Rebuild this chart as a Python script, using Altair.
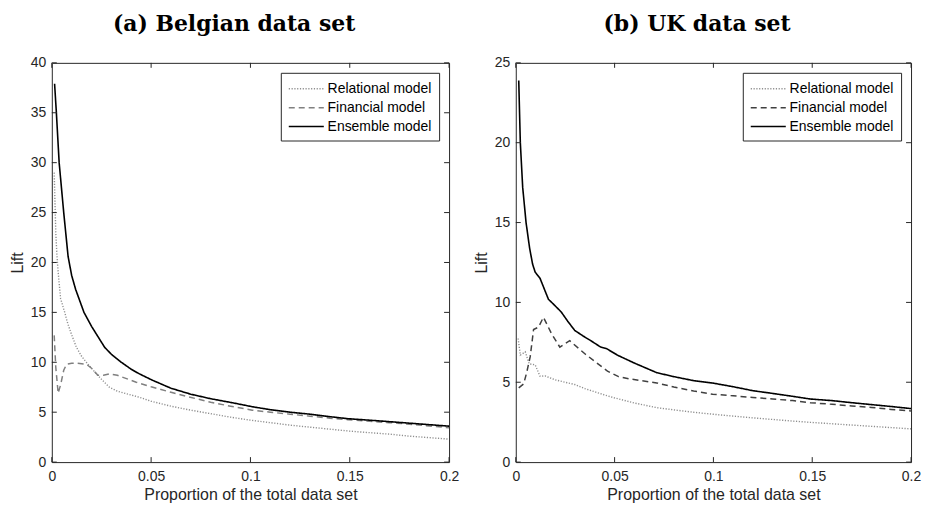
import altair as alt
import pandas as pd

SERIES = ["Relational model", "Financial model", "Ensemble model"]
X_TICKS = [0, 0.05, 0.1, 0.15, 0.2]
BE_Y_TICKS = [0, 5, 10, 15, 20, 25, 30, 35, 40]
UK_Y_TICKS = [0, 5, 10, 15, 20, 25]

# ---- (a) Belgian data set ----
be_rel_x = [0.0012, 0.0016, 0.002, 0.0024, 0.003, 0.0044, 0.0065, 0.008, 0.0099, 0.0124, 0.015, 0.0174,
            0.020, 0.0224, 0.025, 0.029, 0.033, 0.0374, 0.044, 0.050, 0.060, 0.070, 0.080, 0.090, 0.100,
            0.110, 0.120, 0.130, 0.140, 0.150, 0.160, 0.170, 0.180, 0.190, 0.200]
be_rel = [29.0, 26.0, 23.0, 21.4, 19.5, 16.4, 15.0, 13.9, 12.8, 11.5, 10.6, 10.0,
          9.4, 8.85, 8.3, 7.5, 7.1, 6.86, 6.5, 6.1, 5.6, 5.2, 4.85, 4.5, 4.2,
          3.95, 3.7, 3.5, 3.3, 3.1, 2.95, 2.8, 2.6, 2.45, 2.3]

be_fin_x = [0.0012, 0.002, 0.0032, 0.0045, 0.006, 0.0074, 0.010, 0.013, 0.0174, 0.020, 0.0232, 0.026,
            0.029, 0.033, 0.0425, 0.050, 0.060, 0.0675, 0.080, 0.090, 0.1009, 0.110, 0.120, 0.130,
            0.140, 0.149, 0.160, 0.170, 0.180, 0.190, 0.200]
be_fin = [12.7, 9.5, 6.9, 7.8, 9.2, 9.8, 9.9, 9.9, 9.8, 9.4, 8.7, 8.7,
          8.85, 8.7, 8.0, 7.55, 7.0, 6.6, 6.0, 5.6, 5.2, 5.0, 4.8, 4.6,
          4.4, 4.25, 4.1, 3.95, 3.8, 3.62, 3.45]

be_ens_x = [0.0014, 0.0023, 0.0037, 0.006, 0.0082, 0.010, 0.012, 0.0162, 0.020, 0.0266, 0.030, 0.035,
            0.040, 0.044, 0.0507, 0.060, 0.070, 0.080, 0.0908, 0.1009, 0.110, 0.120, 0.130, 0.140,
            0.149, 0.160, 0.170, 0.180, 0.190, 0.200]
be_ens = [37.9, 35.0, 30.0, 25.0, 20.6, 18.7, 17.3, 15.0, 13.6, 11.5, 10.8, 10.0,
          9.3, 8.85, 8.2, 7.4, 6.8, 6.35, 5.95, 5.55, 5.25, 5.0, 4.8, 4.55,
          4.35, 4.2, 4.05, 3.9, 3.75, 3.6]

# ---- (b) UK data set ----
uk_rel_x = [0.0012, 0.0023, 0.0048, 0.0068, 0.0098, 0.0123, 0.0148, 0.020, 0.025, 0.0298, 0.035, 0.040,
            0.045, 0.0497, 0.060, 0.0713, 0.080, 0.090, 0.0996, 0.110, 0.120, 0.130, 0.140, 0.149,
            0.160, 0.170, 0.180, 0.190, 0.200]
uk_rel = [7.74, 6.7, 6.9, 6.15, 6.09, 5.37, 5.4, 5.15, 5.0, 4.86, 4.6, 4.4,
          4.2, 4.03, 3.7, 3.41, 3.27, 3.12, 3.0, 2.88, 2.77, 2.67, 2.57, 2.49,
          2.4, 2.32, 2.24, 2.16, 2.08]

uk_fin_x = [0.0015, 0.004, 0.0055, 0.0073, 0.009, 0.0115, 0.014, 0.0181, 0.0223, 0.0273, 0.0348, 0.040,
            0.0464, 0.052, 0.058, 0.0713, 0.080, 0.090, 0.0996, 0.110, 0.120, 0.130, 0.140, 0.149,
            0.160, 0.170, 0.180, 0.190, 0.200]
uk_fin = [4.65, 4.9, 5.6, 6.6, 8.3, 8.45, 9.07, 8.04, 7.2, 7.6, 6.8, 6.3,
          5.7, 5.35, 5.2, 4.96, 4.7, 4.45, 4.25, 4.15, 4.05, 3.95, 3.85, 3.72,
          3.62, 3.52, 3.42, 3.3, 3.2]

uk_ens_x = [0.0015, 0.0023, 0.0035, 0.0052, 0.007, 0.0085, 0.0098, 0.0123, 0.0165, 0.0198, 0.023, 0.0264,
            0.0298, 0.034, 0.038, 0.043, 0.046, 0.0514, 0.060, 0.0713, 0.080, 0.090, 0.0996, 0.110,
            0.120, 0.130, 0.140, 0.149, 0.160, 0.170, 0.180, 0.190, 0.200]
uk_ens = [23.9, 20.0, 17.2, 15.0, 13.4, 12.4, 11.9, 11.5, 10.2, 9.8, 9.4, 8.8,
          8.25, 7.9, 7.6, 7.2, 7.1, 6.7, 6.2, 5.6, 5.35, 5.1, 4.95, 4.72,
          4.47, 4.3, 4.12, 3.95, 3.85, 3.72, 3.6, 3.48, 3.35]

H = 401
AXC = "#262626"
TICK = 5


def panel(title, rel, fin, ens, ymax, yticks, colors, W):
    rows = []
    for name, (xs, ys) in zip(SERIES, [rel, fin, ens]):
        for x, y in zip(xs, ys):
            rows.append({"x": x, "lift": y, "model": name})
    df = pd.DataFrame(rows)
    xsc = alt.Scale(domain=[0, 0.2], nice=False, zero=False)
    ysc = alt.Scale(domain=[0, ymax], nice=False)
    xax = alt.Axis(values=X_TICKS, title="Proportion of the total data set",
                   labelFlush=False, labelPadding=7, titlePadding=4, format="~g")
    yax = alt.Axis(values=yticks, title="Lift", labelPadding=6, titlePadding=5)
    leg = alt.Legend(title=None)
    lines = alt.Chart(df).mark_line(clip=True).encode(
        x=alt.X("x:Q", scale=xsc, axis=xax),
        y=alt.Y("lift:Q", scale=ysc, axis=yax),
        color=alt.Color("model:N", scale=alt.Scale(domain=SERIES, range=colors), legend=leg),
        strokeDash=alt.StrokeDash("model:N", scale=alt.Scale(domain=SERIES, range=[[1.2, 1.6], [6, 4], [1, 0]]),
                                  legend=leg),
        strokeWidth=alt.StrokeWidth("model:N", scale=alt.Scale(domain=SERIES, range=[1.4, 1.6, 2.0]),
                                    legend=leg),
        order=alt.Order("x:Q"),
    )
    xt = alt.Chart(pd.DataFrame({"x": X_TICKS}))
    yt = alt.Chart(pd.DataFrame({"lift": yticks}))
    rule_style = dict(color=AXC, strokeWidth=1)
    ticks = [
        xt.mark_rule(**rule_style).encode(x=alt.X("x:Q", scale=xsc, axis=xax),
                                          y=alt.value(H), y2=alt.value(H - TICK)),
        xt.mark_rule(**rule_style).encode(x=alt.X("x:Q", scale=xsc, axis=xax),
                                          y=alt.value(0), y2=alt.value(TICK)),
        yt.mark_rule(**rule_style).encode(y=alt.Y("lift:Q", scale=ysc, axis=yax),
                                          x=alt.value(0), x2=alt.value(TICK)),
        yt.mark_rule(**rule_style).encode(y=alt.Y("lift:Q", scale=ysc, axis=yax),
                                          x=alt.value(W), x2=alt.value(W - TICK)),
    ]
    return alt.layer(lines, *ticks).properties(
        width=W, height=H,
        title=alt.TitleParams(title, font="DejaVu Serif", fontSize=22, fontWeight="bold",
                              anchor="middle", frame="bounds", color="black", offset=20),
    )


left = panel("(a) Belgian data set", (be_rel_x, be_rel), (be_fin_x, be_fin), (be_ens_x, be_ens),
             40, BE_Y_TICKS, ["#8f8f8f", "#808080", "#000000"], 399)
right = panel("(b) UK data set", (uk_rel_x, uk_rel), (uk_fin_x, uk_fin), (uk_ens_x, uk_ens),
              25, UK_Y_TICKS, ["#8f8f8f", "#404040", "#000000"], 397)

chart = alt.hconcat(left, right, spacing=12).resolve_scale(
    color="independent", strokeDash="independent", strokeWidth="independent",
    x="independent", y="independent",
).resolve_legend(color="independent", strokeDash="independent", strokeWidth="independent").configure(
    padding={"left": 0, "top": 3, "right": 0, "bottom": 0},
    background="white",
).configure_view(
    stroke=AXC, strokeWidth=1,
).configure_axis(
    domain=False, ticks=False, grid=False,
    labelFont="Liberation Sans", labelFontSize=14, labelColor=AXC,
    titleFont="Liberation Sans", titleFontSize=16, titleFontWeight="normal", titleColor=AXC,
).configure_legend(
    orient="top-right", offset=10, padding=7,
    strokeColor=AXC, fillColor="white", cornerRadius=0,
    symbolType="M-1,0L3.4,0", symbolSize=256, labelOffset=22, rowPadding=3,
    labelFont="Liberation Sans", labelFontSize=14, labelColor="black",
)

chart.save("out.html", embed_options={"renderer": "svg", "actions": False})
